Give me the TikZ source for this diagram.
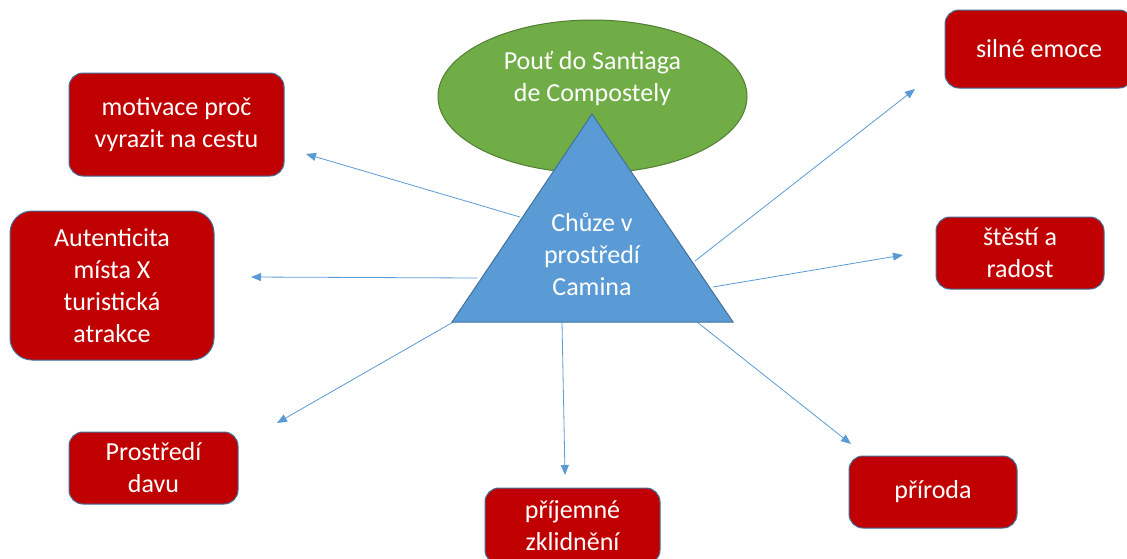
\documentclass[tikz,border=0pt]{standalone}
\usepackage{fontspec}
\setmainfont{Carlito}
\usetikzlibrary{shapes.geometric,arrows.meta}
\definecolor{boxred}{HTML}{C00000}
\definecolor{boxedge}{HTML}{41719C}
\definecolor{ellfill}{HTML}{70AD47}
\definecolor{elledge}{HTML}{507E32}
\definecolor{trifill}{HTML}{5B9BD5}
\definecolor{arrowc}{HTML}{5B9BD5}
\tikzset{
  box/.style={draw=boxedge, line width=1pt, fill=boxred, rounded corners=14pt,
    text=white, align=center, inner sep=0pt, outer sep=0pt,
    font=\fontsize{26}{32}\selectfont},
  conn/.style={draw=arrowc, line width=0.8pt, -{Triangle[length=10pt,width=8pt]}},
  lbl/.style={text=white, align=center, inner sep=0pt, font=\fontsize{26}{32}\selectfont}
}
\begin{document}
\begin{tikzpicture}[x=1pt,y=-1pt]
\useasboundingbox (0,0) rectangle (1127,558);
\fill[white] (0,0) rectangle (1127,558);

% ellipse
\node[ellipse, draw=elledge, line width=1pt, fill=ellfill, minimum width=309, minimum height=153, inner sep=0pt] (ell) at (592.5,96.5) {};
\node[lbl] (elltext) at (592.5,79) {Pouť do Santiaga\\de Compostely};

% boxes
\node[box, minimum width=215, minimum height=103] (mot) at (176.5,124.5) {motivace proč\\vyrazit na cestu};
\node[box, minimum width=204, minimum height=149, rounded corners=22pt] (aut) at (112,285.5) {Autenticita\\místa X\\turistická\\atrakce};
\node[box, minimum width=169, minimum height=72] (dav) at (153.5,468) {Prostředí\\davu};
\node[box, minimum width=175, minimum height=76] (zkl) at (572.5,526) {příjemné\\zklidnění};
\node[box, minimum width=168, minimum height=72] (pri) at (933,492) {příroda};
\node[box, minimum width=168, minimum height=72] (rad) at (1020,253) {štěstí a\\radost};
\node[box, minimum width=188, minimum height=78] (emo) at (1039,49) {silné emoce};

% connector start points on the triangle and free ends
\coordinate (s1) at (520,217);  \coordinate (e1) at (306,154);
\coordinate (s2) at (477,278);  \coordinate (e2) at (251,277);
\coordinate (s3) at (455,321);  \coordinate (e3) at (277,423);
\coordinate (s4) at (562,322);  \coordinate (e4) at (565,475);
\coordinate (s5) at (697,322);  \coordinate (e5) at (851,444);
\coordinate (s6) at (713,287);  \coordinate (e6) at (903,255);
\coordinate (s7) at (695,261);  \coordinate (e7) at (915,89);

\draw[conn] (s1) -- (e1);
\draw[conn] (s2) -- (e2);
\draw[conn] (s3) -- (e3);
\draw[conn] (s4) -- (e4);
\draw[conn] (s5) -- (e5);
\draw[conn] (s6) -- (e6);
\draw[conn] (s7) -- (e7);

% triangle
\coordinate (ta) at (592,114);
\coordinate (tl) at (452,322);
\coordinate (tr) at (733,322);
\draw[draw=boxedge, line width=1pt, fill=trifill, line join=miter] (ta) -- (tl) -- (tr) -- cycle;
\node[lbl] (tritext) at (592,254.5) {Chůze v\\prostředí\\Camina};
\end{tikzpicture}
\end{document}
